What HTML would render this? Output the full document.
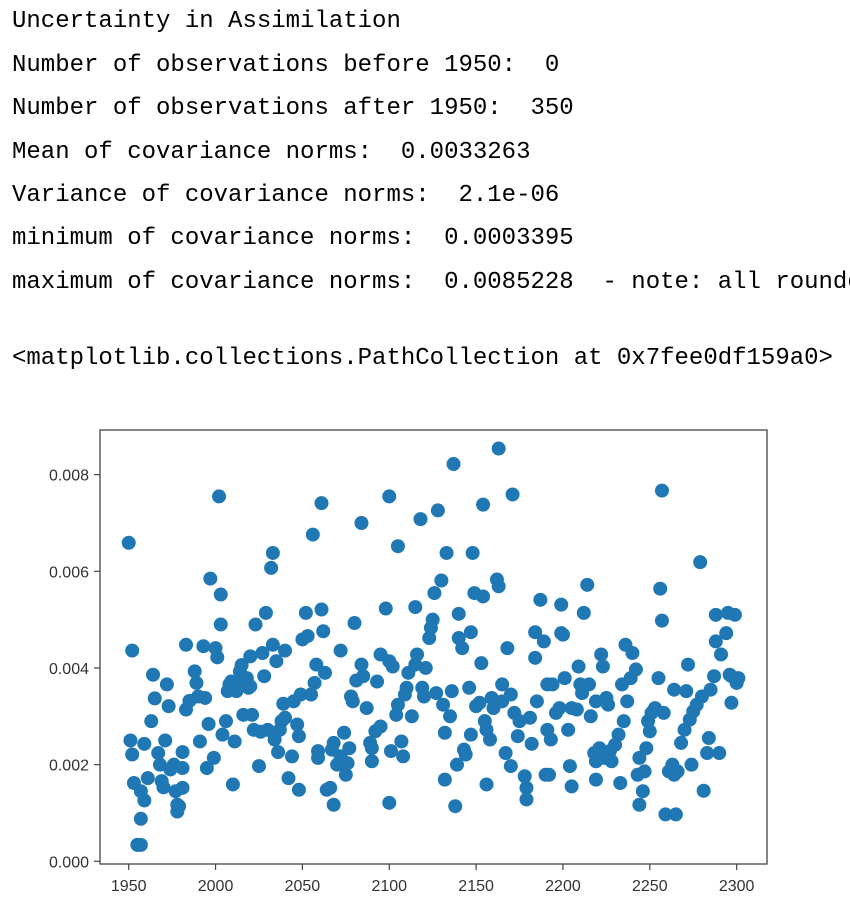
<!DOCTYPE html>
<html><head><meta charset="utf-8">
<style>
body{margin:0;background:#fff;width:850px;height:918px;overflow:hidden;position:relative}
.t{position:absolute;left:12px;font-family:"Liberation Mono",monospace;font-size:24px;white-space:pre;color:#000;line-height:28px}
</style></head><body>
<div class="t" style="top:8px">Uncertainty in Assimilation</div>
<div class="t" style="top:52px">Number of observations before 1950:  0</div>
<div class="t" style="top:95px">Number of observations after 1950:  350</div>
<div class="t" style="top:139px">Mean of covariance norms:  0.0033263</div>
<div class="t" style="top:182px">Variance of covariance norms:  2.1e-06</div>
<div class="t" style="top:225px">minimum of covariance norms:  0.0003395</div>
<div class="t" style="top:269px">maximum of covariance norms:  0.0085228  - note: all rounded</div>
<div class="t" style="top:345px">&lt;matplotlib.collections.PathCollection at 0x7fee0df159a0&gt;</div>
<svg id="chart" width="850" height="918" style="position:absolute;left:0;top:0" xmlns="http://www.w3.org/2000/svg"></svg>
<script>
const years=[1950,1952,1951,1952,1953,1957,1959,1957,1955,1957,1959,1961,1963,1964,1965,1967,1968,1969,1970,1971,1972,1973,1974,1976,1977,1978,1978,1979,1981,1981,1981,1983,1983,1985,1988,1989,1990,1991,1993,1994,1995,1996,1997,1999,2000,2001,2002,2003,2003,2004,2006,2007,2008,2009,2010,2011,2012,2013,2014,2015,2016,2018,2019,2020,2020,2021,2022,2023,2025,2026,2027,2028,2029,2030,2032,2033,2033,2034,2035,2036,2037,2038,2039,2040,2040,2042,2044,2045,2047,2048,2048,2049,2050,2052,2053,2055,2056,2057,2058,2059,2059,2061,2061,2062,2063,2064,
2066,2068,2068,2067,2070,2072,2074,2075,2076,2077,2072,2078,2079,2080,2081,2084,2084,2085,2087,2089,2090,2090,2092,2093,2095,2095,2098,2100,2100,2100,2101,2102,2104,2105,2105,2107,2108,2109,2110,2111,2113,2115,2115,2116,2118,2119,2120,2121,2123,2124,2125,2126,2127,2128,2130,2131,2132,2133,2132,2135,2136,2137,2138,2139,2140,2140,2142,2143,2144,2146,2147,2147,2148,2149,2150,2152,2153,2154,2154,2155,2156,2156,2158,2159,2160,2162,2163,2163,2165,2165,2167,2168,2170,2170,2171,2172,2174,2175,2178,2179,2179,2181,2182,2184,2184,2185,2187,2189,2190,2191,2191,
2199,2199,2200,2194,2193,2192,2196,2198,2201,2203,2204,2205,2205,2208,2209,2210,2211,2212,2214,2215,2216,2218,2219,2219,2219,2221,2222,2223,2224,2225,2226,2227,2228,2230,2232,2233,2234,2235,2236,2237,2239,2240,2242,2243,2244,2244,2246,2247,2248,2249,2250,2251,2253,2255,2256,2257,2257,2258,2259,2261,2263,2264,2264,2265,2266,2268,2270,2271,2272,2273,2274,2275,2277,2279,2280,2281,2283,2284,2285,2287,2288,2288,2290,2291,2294,2295,2296,2297,2299,2300,2301,2297];
const norms=[6.59,4.36,2.50,2.21,1.62,1.45,1.26,0.88,0.34,0.34,2.43,1.72,2.90,3.86,3.37,2.24,2.00,1.66,1.53,2.50,3.66,3.21,1.90,2.00,1.45,1.17,1.03,1.14,1.52,1.93,2.26,3.14,4.48,3.32,3.93,3.69,3.41,2.48,4.45,3.38,1.93,2.84,5.85,2.14,4.41,4.22,7.55,4.90,5.52,2.62,2.90,3.52,3.66,3.72,1.59,2.48,3.52,3.72,3.93,4.06,3.03,3.79,3.59,3.62,4.24,3.03,2.72,4.90,1.97,2.68,4.31,3.83,5.14,2.72,6.07,6.38,4.48,2.52,4.14,2.26,2.72,2.90,3.26,4.36,2.97,1.72,2.17,3.31,2.83,1.48,2.59,3.45,4.59,5.14,4.66,3.45,6.76,3.69,4.07,2.28,2.14,7.41,5.21,4.76,3.90,1.48,
1.52,1.17,2.45,2.31,2.00,2.17,2.66,1.79,2.03,2.34,4.36,3.41,3.31,4.93,3.74,7.00,4.07,3.83,3.17,2.45,2.07,2.34,2.69,3.72,4.28,2.79,5.23,7.55,1.21,4.14,2.28,4.03,3.03,6.52,3.24,2.48,2.17,3.45,3.59,3.90,3.00,5.26,4.07,4.28,7.08,3.59,3.41,4.00,4.62,4.83,5.00,5.55,3.48,7.26,5.81,3.24,2.66,6.38,1.69,3.00,3.52,8.22,1.14,2.00,5.12,4.62,4.41,2.31,2.21,3.59,2.62,4.74,6.38,5.55,3.21,3.28,4.10,5.48,7.38,2.90,1.59,2.72,2.52,3.38,3.17,5.83,5.69,8.54,3.66,3.31,2.24,4.41,3.45,1.97,7.59,3.07,2.59,2.90,1.76,1.52,1.28,2.97,2.43,4.21,4.74,3.31,5.41,4.55,1.79,2.72,3.66,
5.31,4.72,4.69,3.66,2.52,1.79,3.07,3.17,3.79,2.72,1.97,1.55,3.17,3.14,4.03,3.66,3.48,5.14,5.72,3.66,3.00,2.24,2.07,3.31,1.69,2.34,4.28,4.03,2.14,3.38,3.24,2.28,2.07,2.41,2.62,1.62,3.66,2.90,4.48,3.31,3.79,4.31,3.97,1.79,1.17,2.14,1.45,1.86,2.34,2.90,2.69,3.07,3.17,3.79,5.64,7.67,4.98,3.07,0.97,1.86,2.00,1.79,3.55,0.97,1.86,2.45,2.72,3.52,4.07,2.93,2.00,3.10,3.24,6.19,3.41,1.46,2.24,2.55,3.55,3.83,4.55,5.10,2.24,4.28,4.72,5.14,3.86,3.28,5.10,3.69,3.79,3.83];
const xTicks=[1950,2000,2050,2100,2150,2200,2250,2300];
const yTicks=[0,2,4,6,8];
const yTickLabels=["0.000","0.002","0.004","0.006","0.008"];
const NS="http://www.w3.org/2000/svg";
const svg=document.getElementById('chart');
const L=100,T=430,R=767,B=864;
function xs(y){return 128.7+(y-1950)*1.737;}
function ys(v){return 861.3-v*48.33;}
function mk(tag,attrs){const e=document.createElementNS(NS,tag);for(const k in attrs)e.setAttribute(k,attrs[k]);svg.appendChild(e);return e;}
const pts=document.createElementNS(NS,'g');svg.appendChild(pts);


for(let i=0;i<years.length;i++){
  const c=document.createElementNS(NS,'circle');
  c.setAttribute('cx',xs(years[i]));c.setAttribute('cy',ys(norms[i]));c.setAttribute('r',7);c.setAttribute('fill','#1f77b4');
  
  
  pts.appendChild(c);
}
const fr=mk('rect',{x:L,y:T,width:R-L,height:B-T,fill:'none',stroke:'#444','stroke-width':1.3});


xTicks.forEach(t=>{
  const x=xs(t);
  const ln=mk('line',{x1:x,x2:x,y1:B,y2:B+6,stroke:'#444','stroke-width':1.2});
  
  
  const tx=mk('text',{x:x,y:B+27,'text-anchor':'middle','font-family':'Liberation Sans, sans-serif','font-size':16,fill:'#333'});
  tx.textContent=t;
  
  
});
yTicks.forEach((t,i)=>{
  const y=ys(t);
  const ln=mk('line',{x1:L-6,x2:L,y1:y,y2:y,stroke:'#444','stroke-width':1.2});
  
  
  const tx=mk('text',{x:L-11,y:y+6,'text-anchor':'end','font-family':'Liberation Sans, sans-serif','font-size':16,fill:'#333'});
  tx.textContent=yTickLabels[i];
  
  
});
</script>
</body></html>
